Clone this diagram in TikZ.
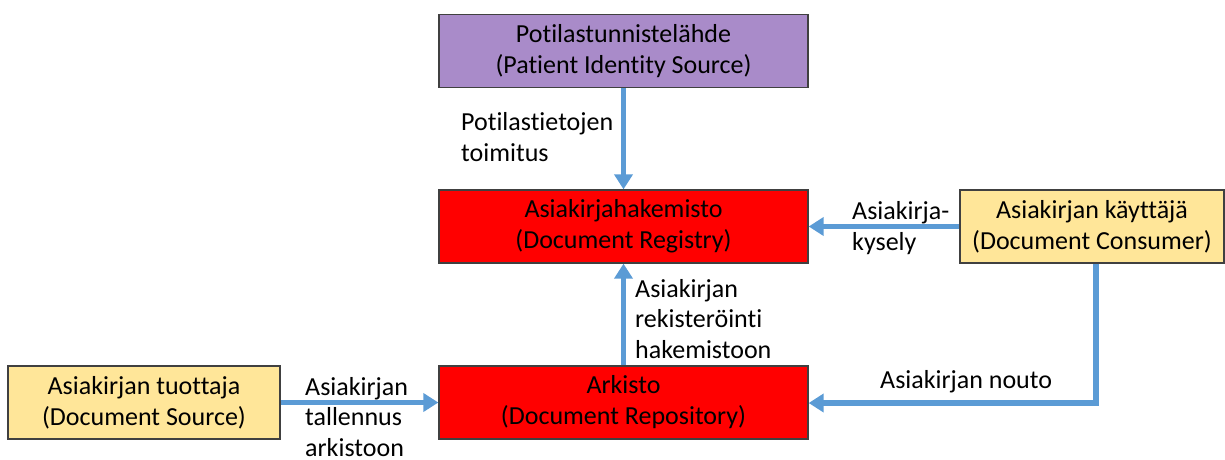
\documentclass[tikz,border=0pt]{standalone}
\usepackage{fontspec}
\setmainfont[RawFeature={-liga}]{Carlito}
\usetikzlibrary{arrows.meta}
\definecolor{pidpurple}{HTML}{A98BC9}
\definecolor{regred}{HTML}{FF0000}
\definecolor{actyellow}{HTML}{FFE699}
\definecolor{flowblue}{HTML}{5B9BD5}
\definecolor{edgegray}{HTML}{404040}
\tikzset{
  actor/.style={draw=edgegray, line width=1.3pt, minimum height=73pt, inner sep=0pt,
    align=center, font=\fontsize{26}{31}\selectfont},
  flow/.style={draw=flowblue, line width=5.5pt, -{Triangle[length=15pt,width=18pt]}},
  flowlabel/.style={align=left, inner sep=0pt, font=\fontsize{26}{30.5}\selectfont}
}
\begin{document}
\begin{tikzpicture}[x=1pt,y=-1pt]
\useasboundingbox (0,0) rectangle (1225,459);
% actors
\node[actor, fill=pidpurple, minimum width=369pt] (pid) at (623.5,51)
  {Potilastunnistelähde\\(Patient Identity Source)};
\node[actor, fill=regred, minimum width=369pt] (reg) at (623.5,226.5)
  {Asiakirjahakemisto\\(Document Registry)};
\node[actor, fill=regred, minimum width=369pt] (rep) at (623.5,402.5)
  {Arkisto\\(Document Repository)};
\node[actor, fill=actyellow, minimum width=272pt] (src) at (144,402.5)
  {Asiakirjan tuottaja\\(Document Source)};
\node[actor, fill=actyellow, minimum width=264pt] (con) at (1092,226.5)
  {Asiakirjan käyttäjä\\(Document Consumer)};
\coordinate (bend) at (1096,403);
% flows
\draw[flow] (pid.south) -- (reg.north);
\draw[flow] (con.west) -- (reg.east);
\draw[flow] (rep.north) -- (reg.south);
\draw[flow] (src.east) -- (rep.west);
\draw[flow] (con.south -| bend) -- (bend) -- (rep.east |- bend);
% flow labels
\node[flowlabel, anchor=west] (l1) at (461,137) {Potilastietojen\\toimitus};
\node[flowlabel, anchor=west] (l2) at (852,228) {Asiakirja-\\kysely};
\node[flowlabel, anchor=west] (l3) at (635,319) {Asiakirjan\\rekisteröinti\\hakemistoon};
\node[flowlabel, anchor=west] (l4) at (305,417) {Asiakirjan\\tallennus\\arkistoon};
\node[flowlabel, anchor=west] (l5) at (880,382) {Asiakirjan nouto};
\end{tikzpicture}
\end{document}
